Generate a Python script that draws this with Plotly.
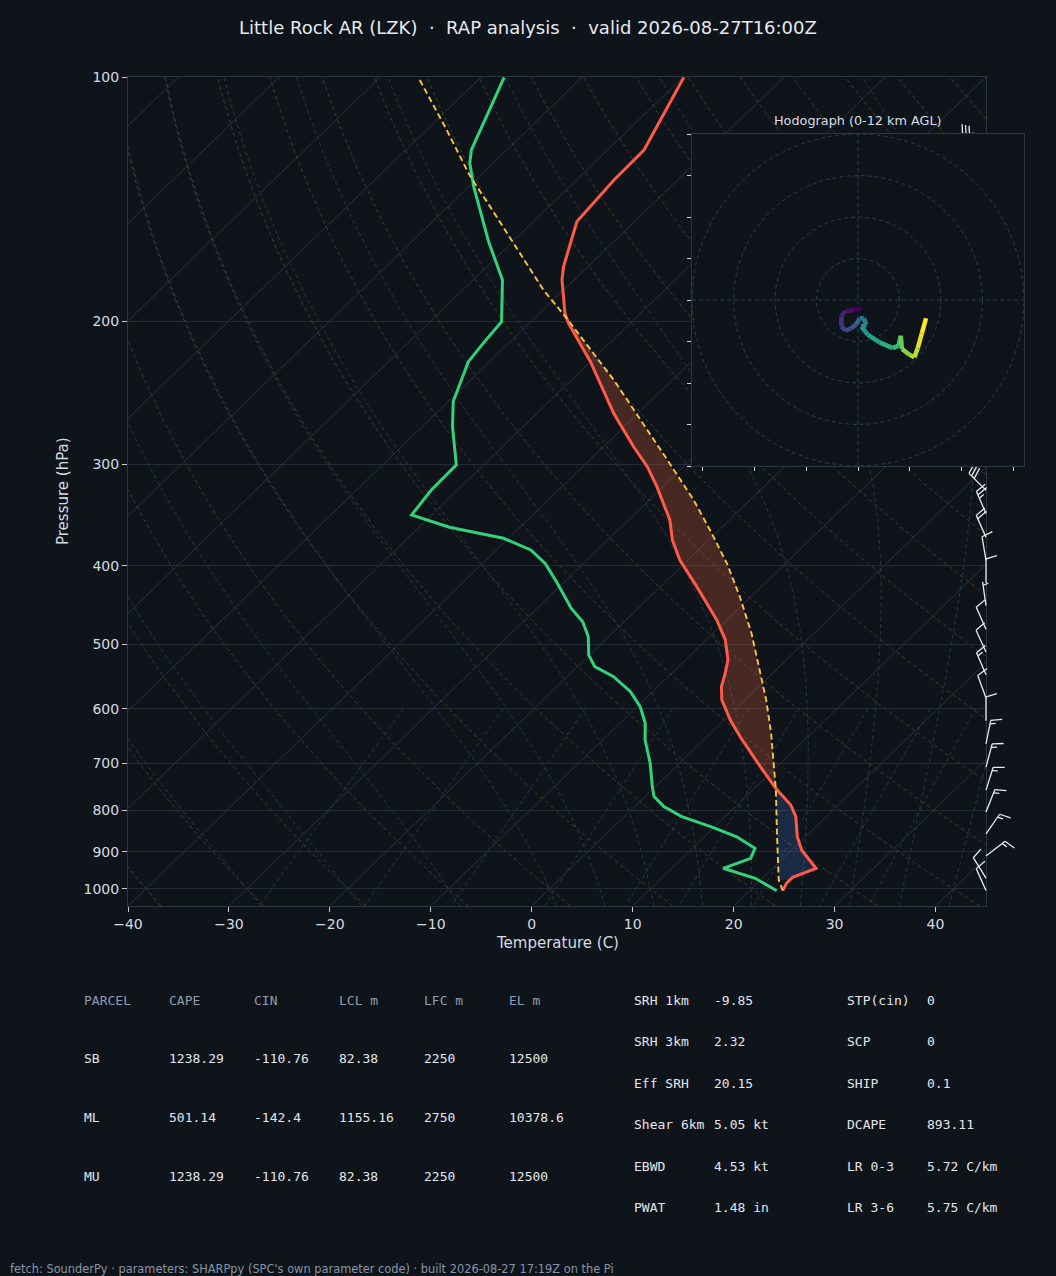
import numpy as np
import plotly.graph_objects as go
from plotly.colors import sample_colorscale

W, H = 1056, 1276
BG = "#0f141b"
FONT = "DejaVu Sans"
MONO = "DejaVu Sans Mono"

TITLE = "Little Rock AR (LZK)  \u00b7  RAP analysis  \u00b7  valid 2026-08-27T16:00Z"
HODO_TITLE = "Hodograph (0-12 km AGL)"
FOOTER = "fetch: SounderPy \u00b7 parameters: SHARPpy (SPC's own parameter code) \u00b7 built 2026-08-27 17:19Z on the Pi"

# ---------------- sounding data ----------------
temp_p = [1005.4, 984.5, 967.9, 943.5, 926.1, 895.9, 862.7, 815.0, 788.4, 752.1,
          697.2, 649.8, 619.5, 585.3, 563.6, 542.6, 522.4, 493.7, 466.5, 424.4,
          393.6, 371.8, 351.3, 331.9, 319.6, 302.0, 285.4, 259.6, 239.5, 224.2,
          212.9, 201.1, 195.4, 177.8, 171.3, 150.7, 133.9, 123.0, 100.1]
temp_c = [23.3, 22.9, 22.9, 24.3, 23.1, 21.0, 19.2, 17.0, 15.3, 12.1,
          7.5, 3.3, 0.6, -2.3, -3.7, -4.7, -5.8, -8.1, -11.0, -16.4,
          -20.8, -23.6, -25.9, -28.7, -30.6, -33.6, -37.0, -42.4, -46.6, -50.0,
          -52.9, -56.1, -57.5, -61.2, -62.4, -65.7, -66.3, -66.4, -69.9]

dewp_p = [1005.4, 970.7, 943.5, 917.2, 891.6, 862.7, 838.5, 815.0, 792.2, 770.0,
          748.4, 700.5, 655.6, 625.2, 596.5, 571.7, 548.0, 532.5, 515.2, 489.3,
          468.8, 451.4, 418.5, 397.3, 382.5, 370.0, 358.6, 346.3, 322.7, 300.5,
          269.6, 251.1, 236.2, 224.2, 212.9, 200.2, 177.8, 171.3, 159.5, 136.5,
          127.7, 123.0, 100.1]
dewp_c = [22.7, 19.3, 15.1, 16.8, 16.2, 13.2, 9.6, 5.7, 2.9, 0.9,
          -0.3, -2.9, -5.8, -7.5, -9.7, -12.2, -15.4, -18.3, -20.1, -22.0,
          -24.1, -26.6, -30.8, -33.8, -36.6, -40.5, -47.0, -52.0, -52.6, -52.7,
          -57.0, -59.5, -60.9, -62.1, -62.5, -62.9, -67.1, -68.9, -72.4, -79.5,
          -82.3, -83.5, -87.7]

parcel_p = [1005.4, 975.4, 862.7, 755.8, 687.5, 643.3, 585.3, 542.6, 484.4, 436.7,
            397.3, 361.4, 331.9, 296.3, 236.2, 197.3, 183.0, 152.9, 132.1, 116.2, 100.1]
parcel_c = [23.3, 21.8, 17.2, 12.3, 8.6, 6.0, 2.1, -1.2, -6.2, -11.1,
            -15.8, -20.9, -25.6, -32.3, -45.8, -57.1, -62.0, -72.5, -81.1, -88.0, -96.2]

# wind barbs (knots)
barb_p = [1005, 970, 911, 856, 804, 756, 708, 663, 621, 582, 545, 511, 479, 448,
          420, 394, 369, 345, 323, 300, 270, 240, 210, 180, 150, 120]
barb_u = [4, 5, -13, -9, -6, -5, -4, -3, 0, 4, 6, 5, 4, 1,
          0, 2, 8, 10, 21, 22, 25, 28, 30, 30, 32, 33]
barb_v = [-9, -8, -10, -13, -15, -16, -15, -15, -10, -11, -14, -11, -9, -7,
          -10, -12, -18, -23, -21, -22, -20, -18, -12, -10, -10, -8]

# hodograph (0-12 km), components
hodo_u = [0.8, -1.2, -3.2, -4.0, -4.0, -3.0, -1.6, -0.4, 0.4, 1.4, 2.0, 0.8,
          2.4, 5.2, 8.4, 9.8, 10.3, 10.6, 12.4, 13.6, 14.4, 15.4, 16.4]
hodo_v = [-2.0, -2.4, -2.8, -4.0, -6.4, -7.4, -6.8, -5.8, -4.4, -4.4, -6.0, -6.4,
          -8.4, -10.2, -11.6, -11.0, -8.6, -11.8, -13.2, -13.8, -11.6, -8.0, -4.4]

p_ticks = [100, 200, 300, 400, 500, 600, 700, 800, 900, 1000]
t_ticks = [-40, -30, -20, -10, 0, 10, 20, 30, 40]
hodo_xticks = [-37.5, -25, -12.5, 0, 12.5, 25, 37.5]
hodo_yticks = [-40, -30, -20, -10, 0, 10, 20, 30, 40]
hodo_rings = [10, 20, 30, 40]

parcel_header = ["PARCEL", "CAPE", "CIN", "LCL m", "LFC m", "EL m"]
parcel_rows = [["SB", "1238.29", "-110.76", "82.38", "2250", "12500"],
               ["ML", "501.14", "-142.4", "1155.16", "2750", "10378.6"],
               ["MU", "1238.29", "-110.76", "82.38", "2250", "12500"]]
param_labels_1 = ["SRH 1km", "SRH 3km", "Eff SRH", "Shear 6km", "EBWD", "PWAT"]
param_values_1 = ["-9.85", "2.32", "20.15", "5.05 kt", "4.53 kt", "1.48 in"]
param_labels_2 = ["STP(cin)", "SCP", "SHIP", "DCAPE", "LR 0-3", "LR 3-6"]
param_values_2 = ["0", "0", "0.1", "893.11", "5.72 C/km", "5.75 C/km"]

# ---------------- geometry ----------------
P_BOT, P_TOP = 1050.0, 100.0
T_LEFT, T_RIGHT = -40.0, 45.0
SPAN = T_RIGHT - T_LEFT           # 45 degree skew, square-ish axes
MAIN_L, MAIN_R, MAIN_T, MAIN_B = 128, 986, 77, 906
HOD_L, HOD_R, HOD_T, HOD_B = 692, 1024, 134, 466
PX_PER_DECADE = (MAIN_B - MAIN_T) / np.log10(P_BOT / P_TOP)


def fx(px):
    return px / W


def fy(py):
    return 1 - py / H


def skewx(T, p):
    T = np.asarray(T, float)
    p = np.asarray(p, float)
    return T + SPAN * np.log10(P_BOT / p) / np.log10(P_BOT / P_TOP)


def joined(lines):
    xs, ys = [], []
    for x, y in lines:
        xs.extend(list(x) + [None])
        ys.extend(list(y) + [None])
    return xs, ys


# ---------------- background lines ----------------
RD, CP, LV, EPS = 287.04, 1005.7, 2.501e6, 0.622


def _es(tk):
    return 6.112 * np.exp(17.67 * (tk - 273.15) / (tk - 29.65))


def _dtdp(tk, p):
    es = _es(tk)
    rs = EPS * es / (p - es)
    return (RD * tk + LV * rs) / (CP + LV * LV * rs * EPS / (RD * tk * tk)) / p


def moist_path(t0c, p_path):
    tk = np.asarray(t0c, float) + 273.15
    out = [tk.copy()]
    for i in range(len(p_path) - 1):
        p = p_path[i]
        h = p_path[i + 1] - p
        k1 = _dtdp(tk, p)
        k2 = _dtdp(tk + 0.5 * h * k1, p + 0.5 * h)
        k3 = _dtdp(tk + 0.5 * h * k2, p + 0.5 * h)
        k4 = _dtdp(tk + h * k3, p + h)
        tk = tk + h * (k1 + 2 * k2 + 2 * k3 + k4) / 6
        out.append(tk.copy())
    return np.array(out) - 273.15


iso_lines = []
for T in range(-130, 50, 10):
    iso_lines.append((skewx([T, T], [P_BOT, P_TOP]), [P_BOT, P_TOP]))

pg = np.geomspace(P_BOT, P_TOP, 80)
dry_lines = []
for t0 in range(-40, 250, 10):
    Tl = (t0 + 273.15) * (pg / 1000.0) ** 0.2857 - 273.15
    dry_lines.append((skewx(Tl, pg), pg))

moist_t0 = list(range(-40, 0, 10)) + list(range(0, 46, 5))
p_up = np.linspace(1000, 100, 181)
p_dn = np.linspace(1000, 1050, 11)
T_up = moist_path(moist_t0, p_up)
T_dn = moist_path(moist_t0, p_dn)
p_m = np.concatenate([p_dn[::-1], p_up[1:]])
moist_lines = []
for j in range(len(moist_t0)):
    Tm = np.concatenate([T_dn[::-1, j], T_up[1:, j]])
    moist_lines.append((skewx(Tm, p_m), p_m))

mix_w = [0.0004, 0.001, 0.002, 0.004, 0.007, 0.01, 0.016, 0.024, 0.032]
pmx = np.linspace(600, P_BOT, 30)
mix_lines = []
for w in mix_w:
    e = pmx * w / (EPS + w)
    ln = np.log(e / 6.112)
    td = 243.5 * ln / (17.67 - ln)
    mix_lines.append((skewx(td, pmx), pmx))

fig = go.Figure()

def add_lines(lines, color, width, dash, xa="x", ya="y"):
    xs, ys = joined(lines)
    fig.add_trace(go.Scatter(x=xs, y=ys, mode="lines", xaxis=xa, yaxis=ya,
                             line=dict(color=color, width=width, dash=dash),
                             hoverinfo="skip", showlegend=False))

add_lines(iso_lines, "#29313d", 1.0, "solid")
add_lines(dry_lines, "#45372a", 1.0, "4px,3px")
add_lines(moist_lines, "#253646", 1.0, "4px,3px")
add_lines(mix_lines, "#253646", 1.0, "4px,3px")

# ---------------- CAPE / CIN shading ----------------
def interp_profile(ps, ts, pnew):
    lp = np.log(np.asarray(ps, float))
    order = np.argsort(lp)
    return np.interp(np.log(pnew), lp[order], np.asarray(ts, float)[order])

pf = np.geomspace(parcel_p[1], P_TOP, 1500)
tf = interp_profile(temp_p, temp_c, pf)
pcf = interp_profile(parcel_p, parcel_c, pf)
pos = (pcf - tf) > 0
lfc_i = int(np.where(pos)[0][0])
el_i = lfc_i
while el_i + 1 < len(pf) and pos[el_i + 1]:
    el_i += 1

def region_polygon(i0, i1):
    sl = slice(i0, i1 + 1)
    xs = np.concatenate([skewx(pcf[sl], pf[sl]), skewx(tf[sl], pf[sl])[::-1]])
    ys = np.concatenate([pf[sl], pf[sl][::-1]])
    return xs, ys

cx, cy = region_polygon(0, lfc_i)
fig.add_trace(go.Scatter(x=cx, y=cy, mode="lines", fill="toself",
                         fillcolor="rgba(60,110,185,0.26)", line=dict(width=0),
                         hoverinfo="skip", showlegend=False))
ax_, ay_ = region_polygon(lfc_i, el_i)
fig.add_trace(go.Scatter(x=ax_, y=ay_, mode="lines", fill="toself",
                         fillcolor="rgba(225,95,60,0.27)", line=dict(width=0),
                         hoverinfo="skip", showlegend=False))

# ---------------- profiles ----------------
fig.add_trace(go.Scatter(x=skewx(dewp_c, dewp_p), y=dewp_p, mode="lines",
                         line=dict(color="#33d17a", width=3),
                         hoverinfo="skip", showlegend=False))
fig.add_trace(go.Scatter(x=skewx(temp_c, temp_p), y=temp_p, mode="lines",
                         line=dict(color="#ff5a48", width=3),
                         hoverinfo="skip", showlegend=False))
fig.add_trace(go.Scatter(x=skewx(parcel_c, parcel_p), y=parcel_p, mode="lines",
                         line=dict(color="#f7c444", width=1.9, dash="6px,3.5px"),
                         hoverinfo="skip", showlegend=False))

# ---------------- wind barbs (x2/y2 overlay, pixel units in x) ----------------
STAFF, FULL_H, SPACING = 24.0, 11.0, 3.6
bx, by = [], []
for p0, u, v in zip(barb_p, barb_u, barb_v):
    spd = float(np.hypot(u, v))
    s5 = int(round(spd / 5.0) * 5)
    d = np.array([-u, -v], float) / max(spd, 1e-6)   # toward where wind comes from
    perp = np.array([d[1], -d[0]])                    # clockwise side
    base = np.array([0.0, 0.0])
    tip = base + STAFF * d
    segs = [(base, tip)]
    nfull, nhalf = s5 // 10, (s5 % 10) // 5
    for i in range(nfull):
        st = tip - i * SPACING * d
        segs.append((st, st + FULL_H * perp + 0.3 * FULL_H * d))
    if nhalf:
        k = nfull if nfull > 0 else 1
        st = tip - k * SPACING * d
        segs.append((st, st + 0.5 * FULL_H * perp + 0.15 * FULL_H * d))
    for a, b in segs:
        bx.extend([MAIN_R + a[0], MAIN_R + b[0], None])
        by.extend([p0 * 10 ** (-a[1] / PX_PER_DECADE), p0 * 10 ** (-b[1] / PX_PER_DECADE), None])

fig.add_trace(go.Scatter(x=bx, y=by, mode="lines", xaxis="x2", yaxis="y2",
                         line=dict(color="#e8ecf1", width=1.3),
                         hoverinfo="skip", showlegend=False))

# ---------------- hodograph (x3/y3 inset) ----------------
R = 40
fig.add_trace(go.Scatter(x=[-R, R, R, -R, -R], y=[-R, -R, R, R, -R], mode="lines",
                         fill="toself", fillcolor=BG, line=dict(width=0),
                         xaxis="x3", yaxis="y3", hoverinfo="skip", showlegend=False))
th = np.linspace(0, 2 * np.pi, 200)
ring_lines = [(r * np.cos(th), r * np.sin(th)) for r in hodo_rings]
ring_lines += [([-R, R], [0, 0]), ([0, 0], [-R, R])]
add_lines(ring_lines, "#2c3a4b", 1.0, "4px,3px", xa="x3", ya="y3")

nseg = len(hodo_u) - 1
cols = sample_colorscale("Viridis", [i / (nseg - 1) for i in range(nseg)])
for i in range(nseg):
    fig.add_trace(go.Scatter(x=hodo_u[i:i + 2], y=hodo_v[i:i + 2], mode="lines",
                             line=dict(color=cols[i], width=4.5),
                             xaxis="x3", yaxis="y3", hoverinfo="skip", showlegend=False))

# ---------------- layout ----------------
AXC = "#2c3643"
TICKC = "#c7cdd5"
TXT = "#d5dae1"

fig.update_layout(
    width=W, height=H, autosize=False,
    margin=dict(l=0, r=0, t=0, b=0, pad=0, autoexpand=False),
    paper_bgcolor=BG, plot_bgcolor="rgba(0,0,0,0)",
    showlegend=False,
    font=dict(family=FONT, color=TXT),
    xaxis=dict(domain=[fx(MAIN_L), fx(MAIN_R)], range=[T_LEFT, T_RIGHT], anchor="y",
               tickvals=t_ticks, ticktext=[str(t).replace("-", "\u2212") for t in t_ticks],
               ticks="outside", ticklen=5, tickcolor=TICKC, tickwidth=1,
               tickfont=dict(size=14, color=TXT, family=FONT), automargin=False,
               showgrid=False, zeroline=False, showline=True, mirror=True,
               linecolor=AXC, linewidth=1),
    yaxis=dict(domain=[fy(MAIN_B), fy(MAIN_T)], type="log", anchor="x",
               range=[np.log10(P_BOT), np.log10(P_TOP)],
               tickvals=p_ticks, ticktext=[str(p) for p in p_ticks],
               ticks="outside", ticklen=5, tickcolor=TICKC, tickwidth=1,
               tickfont=dict(size=14, color=TXT, family=FONT), automargin=False,
               showgrid=True, gridcolor="#222b36", gridwidth=1, zeroline=False,
               showline=True, mirror=True, linecolor=AXC, linewidth=1),
    xaxis2=dict(domain=[fx(930), fx(1050)], range=[930, 1050], anchor="y2",
                visible=False, fixedrange=True, automargin=False),
    yaxis2=dict(domain=[fy(MAIN_B), fy(MAIN_T)], type="log", anchor="x2",
                range=[np.log10(P_BOT), np.log10(P_TOP)], visible=False, automargin=False),
    xaxis3=dict(domain=[fx(HOD_L), fx(HOD_R)], range=[-R, R], anchor="y3",
                tickvals=hodo_xticks, showticklabels=False, ticks="outside",
                ticklen=4, tickcolor="#cfd4da", showgrid=False, zeroline=False,
                showline=True, mirror=True, linecolor=AXC, linewidth=1, automargin=False),
    yaxis3=dict(domain=[fy(HOD_B), fy(HOD_T)], range=[-R, R], anchor="x3",
                tickvals=hodo_yticks, showticklabels=False, ticks="outside",
                ticklen=4, tickcolor="#cfd4da", showgrid=False, zeroline=False,
                showline=True, mirror=True, linecolor=AXC, linewidth=1, automargin=False),
)

ann = []
def text(px, py, s, size, color, anchor="left", family=FONT, angle=0):
    ann.append(dict(x=fx(px), y=fy(py), xref="paper", yref="paper", text=s,
                    showarrow=False, xanchor=anchor, yanchor="middle", textangle=angle,
                    borderpad=0, xshift=(-1 if anchor == "left" else 0),
                    font=dict(size=size, color=color, family=family)))

text(528, 27, TITLE, 18, "#e6e9ee", anchor="center")
text(858, 120, HODO_TITLE, 12.8, "#d9dee5", anchor="center")
text((MAIN_L + MAIN_R) / 2, 943, "Temperature (C)", 15, TXT, anchor="center")
text(63, 491, "Pressure (hPa)", 15, TXT, anchor="center", angle=-90)

col_x = [84, 169, 254, 339, 424, 509]
for cx_, h_ in zip(col_x, parcel_header):
    text(cx_, 1000, h_, 13, "#8e9db1", family=MONO)
for ry, row in zip([1058, 1117, 1176], parcel_rows):
    for cx_, v_ in zip(col_x, row):
        text(cx_, ry, v_, 13, "#e2e6ec", family=MONO)

row_y = [1000, 1041, 1083, 1124, 1166, 1207]
for ry, l1, v1, l2, v2 in zip(row_y, param_labels_1, param_values_1, param_labels_2, param_values_2):
    text(634, ry, l1, 13, "#e2e6ec", family=MONO)
    text(714, ry, v1, 13, "#e2e6ec", family=MONO)
    text(847, ry, l2, 13, "#e2e6ec", family=MONO)
    text(927, ry, v2, 13, "#e2e6ec", family=MONO)

text(10, 1269, FOOTER, 11.4, "#8794a6")
fig.update_layout(annotations=ann)

fig.write_html("out.html", config={"displayModeBar": False},
               post_script="document.body.style.margin='0';document.body.style.overflow='hidden';"
                           "document.body.style.background='" + BG + "';")
